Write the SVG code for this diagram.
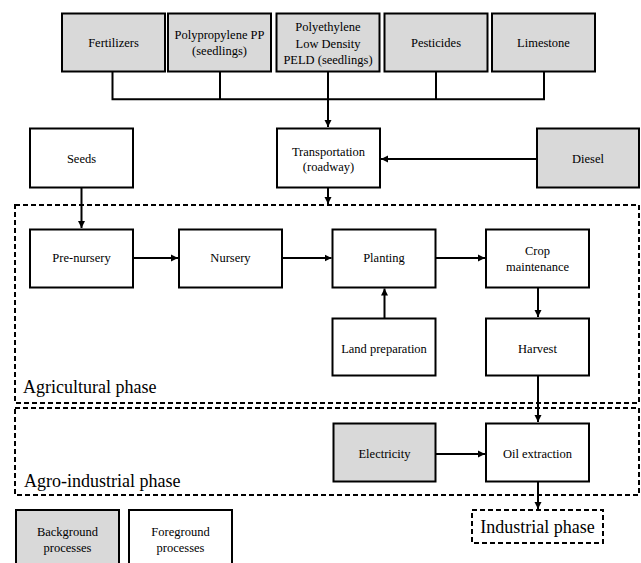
<svg xmlns="http://www.w3.org/2000/svg" width="641" height="563" viewBox="0 0 641 563">
<defs>
<marker id="ah" markerWidth="8" markerHeight="8" refX="7" refY="4" orient="auto" markerUnits="userSpaceOnUse">
<path d="M0,0.5 L7,4 L0,7.5 Z" fill="#000"/>
</marker>
<style>
.bg{fill:#d9d9d9;stroke:#000;stroke-width:2}
.fg{fill:#fff;stroke:#000;stroke-width:2}
.ph{fill:none;stroke:#000;stroke-width:2;stroke-dasharray:5,3}
.t{font-family:'Liberation Serif','Tinos','DejaVu Serif','Noto Serif',serif;font-size:12.5px;text-anchor:middle;fill:#000}
.big{font-family:'Liberation Serif','Tinos','DejaVu Serif','Noto Serif',serif;font-size:18px;fill:#000}
.c{fill:none;stroke:#000;stroke-width:2}
</style>
</defs>
<rect width="641" height="563" fill="#fff"/>
<g id="phases">
<rect class="ph" x="15" y="205" width="624" height="198"/>
<text class="big" x="23" y="393">Agricultural phase</text>
<rect class="ph" x="15" y="408" width="624" height="87"/>
<text class="big" x="24" y="487">Agro-industrial phase</text>
</g>
<g id="connectors">
<path class="c" d="M112.5,72 V99.3 H544 V72 M220,72 V99.3 M436,72 V99.3 M328,72 V99.3"/>
<path class="c" d="M328,99.3 V127" marker-end="url(#ah)"/>
<path class="c" d="M537,159 H381" marker-end="url(#ah)"/>
<path class="c" d="M328,188 V204" marker-end="url(#ah)"/>
<path class="c" d="M81.5,188 V228" marker-end="url(#ah)"/>
<path class="c" d="M133,258 H178" marker-end="url(#ah)"/>
<path class="c" d="M282,258 H331.5" marker-end="url(#ah)"/>
<path class="c" d="M435.6,258 H485" marker-end="url(#ah)"/>
<path class="c" d="M384.5,318 V288.5" marker-end="url(#ah)"/>
<path class="c" d="M538,287.3 V317" marker-end="url(#ah)"/>
<path class="c" d="M538,375.7 V422" marker-end="url(#ah)"/>
<path class="c" d="M435.6,454 H485" marker-end="url(#ah)"/>
<path class="c" d="M538,481.7 V509" marker-end="url(#ah)"/>
</g>
<g id="fertilizers"><rect class="bg" x="62" y="13.5" width="103" height="58"/><text class="t" x="113.5" y="47">Fertilizers</text></g>
<g id="polypropylene"><rect class="bg" x="168" y="13.5" width="103" height="58"/><text class="t" x="219.5" y="39">Polypropylene PP</text><text class="t" x="219.5" y="55">(seedlings)</text></g>
<g id="polyethylene"><rect class="bg" x="276.5" y="13.5" width="103" height="58"/><text class="t" x="328" y="31">Polyethylene</text><text class="t" x="328" y="47.5">Low Density</text><text class="t" x="328" y="64">PELD (seedlings)</text></g>
<g id="pesticides"><rect class="bg" x="384.5" y="13.5" width="103" height="58"/><text class="t" x="436" y="47">Pesticides</text></g>
<g id="limestone"><rect class="bg" x="492" y="13.5" width="103" height="58"/><text class="t" x="543.5" y="47">Limestone</text></g>
<g id="seeds"><rect class="fg" x="30" y="128.5" width="103" height="59"/><text class="t" x="81.5" y="163">Seeds</text></g>
<g id="transportation"><rect class="fg" x="277" y="128.5" width="103" height="59"/><text class="t" x="328.5" y="156">Transportation</text><text class="t" x="328.5" y="171">(roadway)</text></g>
<g id="diesel"><rect class="bg" x="537" y="128.5" width="102" height="59"/><text class="t" x="588" y="163">Diesel</text></g>
<g id="pre-nursery"><rect class="fg" x="30" y="229.5" width="103" height="58"/><text class="t" x="81.5" y="262">Pre-nursery</text></g>
<g id="nursery"><rect class="fg" x="179" y="229.5" width="103" height="58"/><text class="t" x="230.5" y="262">Nursery</text></g>
<g id="planting"><rect class="fg" x="332.5" y="229.5" width="103" height="58"/><text class="t" x="384" y="262">Planting</text></g>
<g id="crop-maintenance"><rect class="fg" x="486" y="229.5" width="103" height="58"/><text class="t" x="537.5" y="255">Crop</text><text class="t" x="537.5" y="271">maintenance</text></g>
<g id="land-preparation"><rect class="fg" x="332.5" y="318.5" width="103" height="57"/><text class="t" x="384" y="352.5">Land preparation</text></g>
<g id="harvest"><rect class="fg" x="486" y="318.5" width="103" height="57"/><text class="t" x="537.5" y="352.5">Harvest</text></g>
<g id="electricity"><rect class="bg" x="333.5" y="423.5" width="102" height="58"/><text class="t" x="384.5" y="458">Electricity</text></g>
<g id="oil-extraction"><rect class="fg" x="486" y="423.5" width="103" height="58"/><text class="t" x="537.5" y="458">Oil extraction</text></g>
<g id="industrial-phase"><rect class="ph" x="472" y="510" width="131" height="33"/><text class="big" x="537.5" y="533" text-anchor="middle">Industrial phase</text></g>
<g id="legend-background"><rect class="bg" x="16" y="510" width="103" height="60"/><text class="t" x="67.5" y="536">Background</text><text class="t" x="67.5" y="552">processes</text></g>
<g id="legend-foreground"><rect class="fg" x="129" y="510" width="103" height="60"/><text class="t" x="180.5" y="536">Foreground</text><text class="t" x="180.5" y="552">processes</text></g>
</svg>
